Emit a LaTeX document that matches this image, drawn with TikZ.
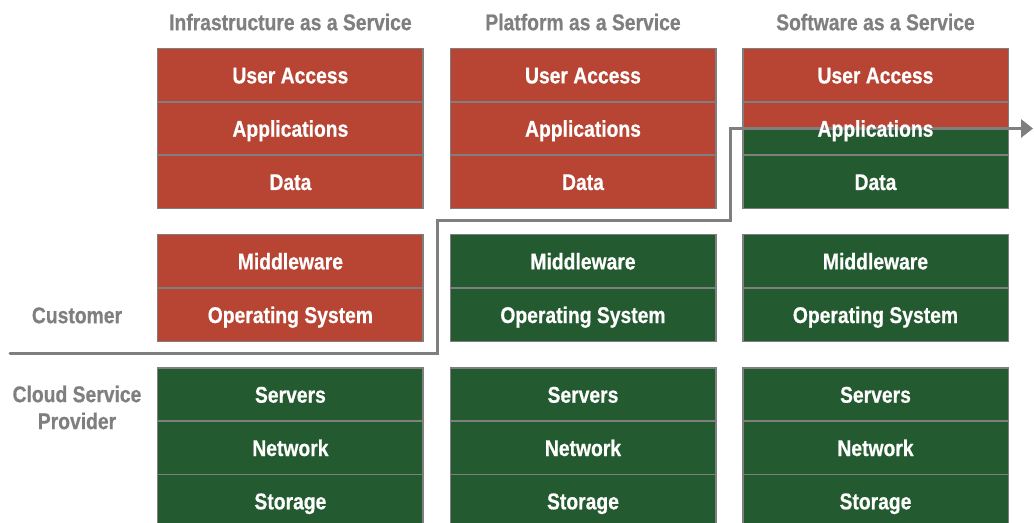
\documentclass[tikz,border=0pt]{standalone}
\usepackage{fontspec}
\setmainfont{Liberation Sans}[FakeStretch=0.85,FakeBold=0.6]
\usetikzlibrary{arrows.meta,backgrounds}
\definecolor{layerred}{HTML}{B84433}
\definecolor{layergreen}{HTML}{245A2F}
\definecolor{rulegray}{HTML}{7F7F7F}
\newcommand\labelfont{\bfseries\fontsize{22.8}{27}\selectfont}
\begin{document}
\begin{tikzpicture}[x=1bp,y=-1bp,
  cell/.style={draw=rulegray,line width=1.5bp,minimum width=265.5bp,minimum height=53.3bp,
    inner sep=0pt,text=white,font=\labelfont,text height=16.4bp,text depth=0pt},
  own/.style={cell,fill=layerred},
  managed/.style={cell,fill=layergreen},
  heading/.style={text=rulegray,font=\labelfont,inner sep=0pt,text height=16.4bp,text depth=0pt},
  sidelabel/.style={text=rulegray,font=\labelfont,inner sep=0pt,align=center},
  divider/.style={draw=rulegray,line width=3bp,line cap=round}]
\useasboundingbox (0,0) rectangle (1034,523);

% column headings
\node[heading] (iaasHead) at (290.4,22) {Infrastructure as a Service};
\node[heading] (paasHead) at (583,22) {Platform as a Service};
\node[heading] (saasHead) at (875.5,22) {Software as a Service};

% responsibility labels
\node[sidelabel,text height=16.4bp,text depth=0pt] (customer) at (77,315) {Customer};
\node[sidelabel] (provider) at (77,407.5) {Cloud Service\\Provider};

% Infrastructure as a Service stack
\node[own] (iaasUser) at (290.4,75.2) {User Access};
\node[own] (iaasApps) at (290.4,128.5) {Applications};
\node[own] (iaasData) at (290.4,181.8) {Data};
\node[own] (iaasMid) at (290.4,261.2) {Middleware};
\node[own] (iaasOS) at (290.4,314.8) {Operating System};
\node[managed] (iaasSrv) at (290.4,394.5) {Servers};
\node[managed] (iaasNet) at (290.4,447.8) {Network};
\node[managed] (iaasSto) at (290.4,501.1) {Storage};

% Platform as a Service stack
\node[own] (paasUser) at (583,75.2) {User Access};
\node[own] (paasApps) at (583,128.5) {Applications};
\node[own] (paasData) at (583,181.8) {Data};
\node[managed] (paasMid) at (583,261.2) {Middleware};
\node[managed] (paasOS) at (583,314.8) {Operating System};
\node[managed] (paasSrv) at (583,394.5) {Servers};
\node[managed] (paasNet) at (583,447.8) {Network};
\node[managed] (paasSto) at (583,501.1) {Storage};

% Software as a Service stack
\node[own] (saasUser) at (875.5,75.2) {User Access};
\node[cell] (saasApps) at (875.5,128.5) {Applications};
\node[managed] (saasData) at (875.5,181.8) {Data};
\node[managed] (saasMid) at (875.5,261.2) {Middleware};
\node[managed] (saasOS) at (875.5,314.8) {Operating System};
\node[managed] (saasSrv) at (875.5,394.5) {Servers};
\node[managed] (saasNet) at (875.5,447.8) {Network};
\node[managed] (saasSto) at (875.5,501.1) {Storage};

% boundary between customer and provider responsibility
\coordinate (lineStart) at (10,353.5);
\coordinate (riseA) at (437,221);
\coordinate (riseB) at (730,128.5);
\coordinate (lineEnd) at (1033,128.5);
\begin{scope}[on background layer]
  \fill[layerred] (saasApps.north west) rectangle (saasApps.east);
  \fill[layergreen] (saasApps.west) rectangle (saasApps.south east);
  \draw[divider,-{Triangle[length=12bp,width=18bp]}] (lineStart) -| (riseA) -| (riseB) -- (lineEnd);
\end{scope}
\end{tikzpicture}
\end{document}
